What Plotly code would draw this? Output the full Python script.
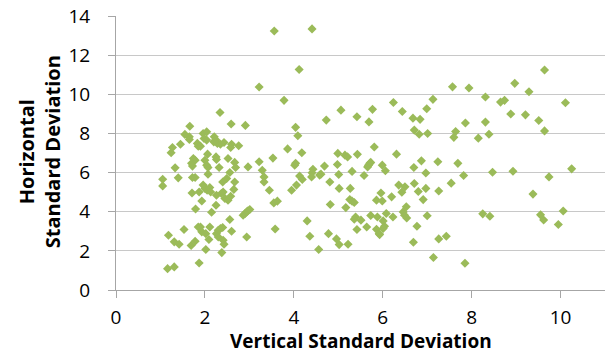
import plotly.graph_objects as go

vertical_sd = [
    3.56, 3.22, 2.34, 2.59, 2.91, 1.66, 1.55, 1.65, 1.65, 1.45, 1.27, 1.24, 1.96, 2.04, 1.98, 2.04, 1.83, 1.85, 1.90, 2.21,
    2.25, 2.20, 2.28, 2.35, 2.43, 2.60, 2.58, 2.76,
    4.41, 4.12, 3.78, 6.24, 7.13, 5.06, 5.77, 6.44, 6.99, 5.42, 4.73, 5.69, 6.68, 6.84, 4.04, 4.09, 6.71, 6.82, 7.01, 3.86,
    4.18, 5.81, 4.99, 5.15, 5.21, 5.43, 6.31, 3.53,
    9.64, 7.57, 7.94, 8.97, 9.29, 8.31, 8.65, 8.74, 10.11, 8.88, 9.21, 9.51, 9.64, 7.86, 8.31, 7.64, 7.60, 8.15, 8.39,
    1.74, 1.78, 1.70, 1.72, 2.06, 2.25, 2.26, 2.00, 2.04, 2.07, 2.52, 2.67, 2.69, 2.32, 1.33, 2.97, 3.22, 3.29, 3.33, 3.33,
    3.45, 3.55, 3.63, 3.58, 1.05, 1.05, 1.40, 1.72, 1.78, 2.07, 2.56, 2.49, 2.40, 2.67, 1.96, 2.00, 2.05, 2.11, 2.13, 1.71,
    1.87, 2.26, 2.37, 2.41, 2.45, 2.52, 2.58, 2.65, 1.93, 2.25, 1.79, 2.15, 2.86, 2.90, 2.94, 2.97, 3.01, 2.56, 1.53, 1.85,
    1.90, 1.93, 2.11, 2.02, 2.09, 2.26, 2.30, 2.35, 2.40, 2.30, 2.60, 2.41, 2.43, 2.94, 1.18, 1.31, 1.42, 1.69, 1.78, 2.02,
    2.38, 1.87, 1.16, 1.31,
    4.02, 4.04, 4.43, 4.41, 4.40, 4.13, 4.19, 4.58, 4.61, 4.69, 4.98, 5.01, 4.81, 5.31, 5.58, 5.66, 5.68, 5.71, 5.73, 5.99,
    6.06, 6.70, 6.87, 7.24, 6.97, 3.95, 4.06, 5.02, 5.27, 4.82, 5.26, 5.31, 5.36, 5.17, 5.96, 5.86, 5.99, 6.20, 6.36, 6.50,
    6.43, 6.71, 6.80, 6.97, 6.91, 7.26, 6.53, 6.46, 6.49, 6.54, 7.00, 6.08, 6.23, 5.39, 5.36, 5.73, 5.88, 6.01, 6.04, 6.01,
    5.86, 5.92, 5.93, 5.51, 5.64, 5.42, 4.30, 4.36, 4.78, 4.96, 5.02, 5.22, 4.56, 6.77, 6.69, 7.14, 7.26,
    7.69, 7.82, 7.54, 8.47, 8.93, 9.74, 10.25, 9.38, 8.25, 8.41, 9.55, 9.62, 9.95, 10.06, 7.43, 7.85,
]

horizontal_sd = [
    13.23, 10.37, 9.07, 8.48, 8.41, 8.37, 7.95, 7.83, 7.69, 7.45, 7.28, 7.01, 8.00, 8.08, 7.74, 7.66, 7.49, 7.35, 7.35, 7.83,
    7.66, 7.57, 7.49, 7.45, 7.54, 7.45, 7.28, 7.37,
    13.34, 11.27, 9.69, 9.58, 9.74, 9.19, 9.23, 9.12, 9.26, 8.85, 8.68, 8.59, 8.78, 8.72, 8.31, 7.88, 8.17, 7.96, 8.00, 7.21,
    7.01, 7.31, 6.98, 6.89, 6.80, 6.93, 6.94, 6.74,
    11.24, 10.38, 10.32, 10.56, 10.13, 9.86, 9.60, 9.69, 9.57, 8.99, 8.95, 8.66, 8.13, 8.53, 8.58, 8.10, 7.80, 7.76, 7.96,
    6.72, 6.63, 6.47, 6.33, 6.94, 6.80, 6.67, 6.63, 6.38, 6.26, 6.72, 6.52, 6.26, 6.26, 6.24, 6.29, 6.55, 6.12, 5.78, 5.52,
    5.10, 4.45, 4.54, 3.12, 5.66, 5.32, 5.73, 5.75, 5.75, 5.92, 6.00, 5.70, 5.52, 5.52, 5.36, 5.19, 5.10, 5.24, 5.01, 4.96,
    5.01, 4.84, 4.93, 5.01, 4.68, 4.59, 4.79, 5.14, 4.55, 4.33, 4.14, 3.97, 3.82, 3.90, 3.99, 4.05, 4.11, 3.60, 3.09, 3.22,
    3.22, 2.97, 3.22, 2.88, 2.58, 2.88, 3.05, 3.14, 3.19, 2.71, 3.00, 2.54, 2.34, 2.71, 2.80, 2.46, 2.34, 2.27, 2.49, 2.07,
    1.91, 1.38, 1.09, 1.18,
    6.38, 6.47, 6.17, 5.99, 5.78, 5.82, 5.65, 5.87, 5.92, 6.33, 6.41, 5.90, 5.52, 6.06, 5.85, 6.29, 6.38, 6.47, 6.52, 6.38,
    6.09, 6.26, 6.60, 6.55, 5.98, 5.10, 5.36, 5.19, 5.19, 4.37, 4.62, 4.54, 4.47, 4.21, 4.96, 4.59, 4.55, 4.76, 5.36, 5.27,
    5.00, 5.44, 5.03, 5.19, 4.62, 5.06, 4.25, 3.99, 3.82, 3.68, 3.79, 3.91, 3.73, 3.73, 3.62, 3.81, 3.73, 3.53, 3.26, 3.14,
    3.10, 2.88, 2.83, 3.57, 3.22, 3.09, 3.53, 2.75, 2.88, 2.61, 2.32, 2.34, 2.07, 3.26, 2.44, 1.66, 2.61,
    6.47, 5.85, 5.46, 6.02, 6.07, 5.78, 6.19, 4.90, 3.89, 3.77, 3.84, 3.58, 3.35, 4.04, 2.75, 1.37,
]

x_ticks = [0, 2, 4, 6, 8, 10]
y_ticks = [0, 2, 4, 6, 8, 10, 12, 14]
x_title = "Vertical Standard Deviation"
y_title = "Horizontal<br>Standard Deviation"

fig = go.Figure(
    go.Scatter(
        x=vertical_sd,
        y=horizontal_sd,
        mode="markers",
        marker=dict(symbol="diamond", size=7, color="#9BBB59", line=dict(width=0)),
        hoverinfo="x+y",
    )
)

font_family = "Open Sans, Liberation Sans, sans-serif"
title_font = dict(size=20, family=font_family, color="#000000", weight="bold")
x_title_font = dict(size=19, family=font_family, color="#000000", weight="bold")

fig.update_layout(
    width=614,
    height=356,
    margin=dict(l=116, r=9, t=16, b=66),
    paper_bgcolor="white",
    plot_bgcolor="white",
    showlegend=False,
    font=dict(family=font_family, color="#000000"),
    annotations=[
        dict(
            text=x_title, xref="paper", yref="paper", x=0.5, y=-0.2409,
            xanchor="center", yanchor="bottom", showarrow=False, font=x_title_font,
        ),
        dict(
            text=y_title, xref="paper", yref="paper", x=-0.157, y=0.5036,
            xanchor="center", yanchor="middle", showarrow=False, textangle=-90,
            font=title_font,
        ),
    ],
)

fig.update_xaxes(
    range=[0, 11],
    tickvals=x_ticks,
    ticktext=[str(v) for v in x_ticks],
    automargin=False,
    showgrid=False,
    zeroline=False,
    showline=True,
    linecolor="#A6A6A6",
    linewidth=1,
    ticks="outside",
    ticklen=7,
    tickcolor="#A6A6A6",
    tickfont=dict(size=19, family=font_family, color="#000000"),
    ticklabelstandoff=3,
)

fig.update_yaxes(
    range=[0, 14],
    tickvals=y_ticks,
    ticktext=[str(v) for v in y_ticks],
    automargin=False,
    showgrid=True,
    gridcolor="#C8C8C8",
    gridwidth=1,
    zeroline=False,
    showline=True,
    linecolor="#A6A6A6",
    linewidth=1,
    ticks="outside",
    ticklen=7,
    tickcolor="#A6A6A6",
    tickfont=dict(size=19, family=font_family, color="#000000"),
    ticklabelstandoff=14,
)

fig.write_html(
    "out.html",
    config={"displayModeBar": False},
    post_script="document.body.style.margin='0';document.body.style.padding='0';",
)
